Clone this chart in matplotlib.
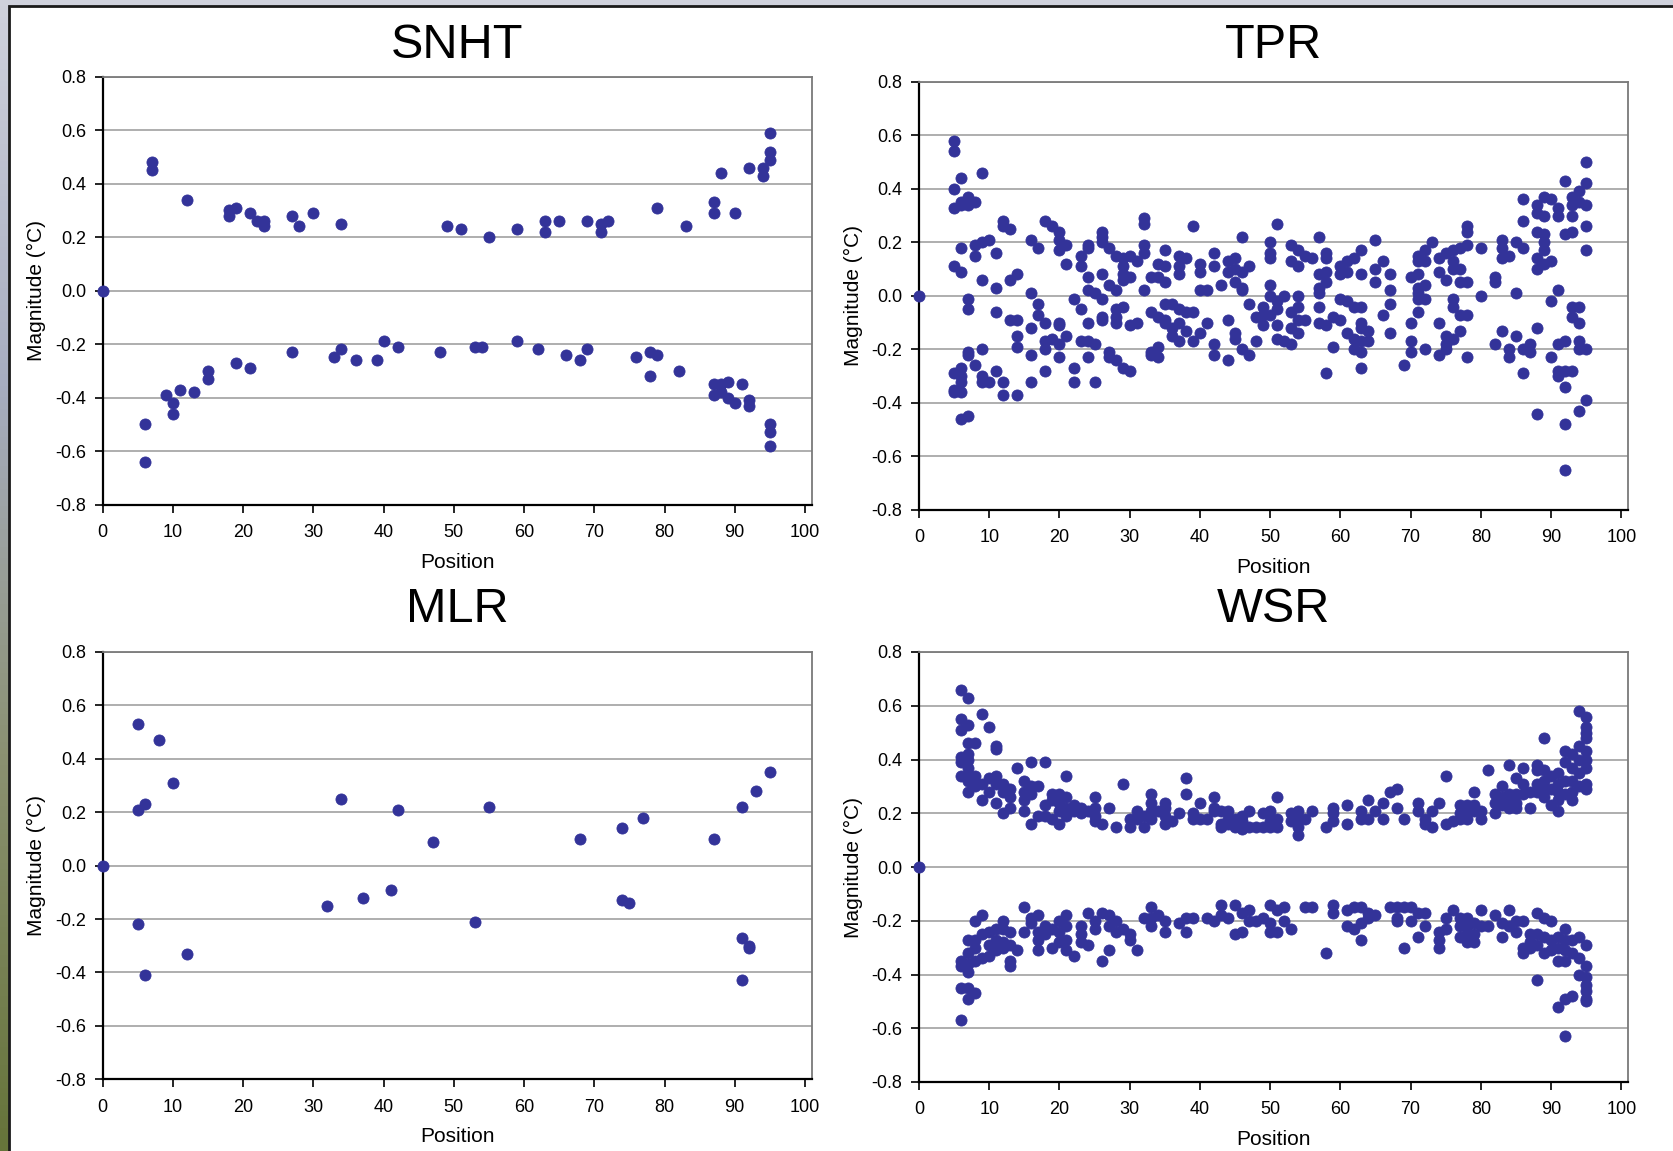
import numpy as np
import matplotlib
matplotlib.use("Agg")
import matplotlib.pyplot as plt
from matplotlib.patches import Rectangle
from matplotlib.ticker import FuncFormatter

plt.rcParams['font.family'] = ['Liberation Sans', 'DejaVu Sans']

# ---- data: position -> list of magnitudes (deg C) ----
snht_pos = [0, 6, 7, 9, 10, 11, 12, 13, 15, 18, 19, 21, 22, 23, 27, 28, 30, 33, 34, 36,
            39, 40, 42, 48, 49, 51, 53, 54, 55, 59, 62, 63, 65, 66, 68, 69, 71, 72, 76, 78,
            79, 82, 83, 87, 88, 89, 90, 91, 92, 94, 95]
snht_vals = [[0.0], [-0.50, -0.64], [0.48, 0.45], [-0.39], [-0.42, -0.46], [-0.37], [0.34],
             [-0.38], [-0.30, -0.33], [0.30, 0.28], [0.31, -0.27], [0.29, -0.29], [0.26],
             [0.26, 0.24], [0.28, -0.23], [0.24], [0.29], [-0.25], [0.25, -0.22], [-0.26],
             [-0.26], [-0.19], [-0.21], [-0.23], [0.24], [0.23], [-0.21], [-0.21], [0.20],
             [0.23, -0.19], [-0.22], [0.26, 0.22], [0.26], [-0.24], [-0.26], [0.26, -0.22],
             [0.25, 0.22], [0.26], [-0.25], [-0.23, -0.32], [0.31, -0.24], [-0.30], [0.24],
             [0.33, 0.29, -0.35, -0.39], [0.44, -0.35, -0.38], [-0.34, -0.40], [0.29, -0.42],
             [-0.35], [0.46, -0.41, -0.43], [0.46, 0.43], [0.59, 0.52, 0.49, -0.50, -0.53, -0.58]]

mlr_pos = [0, 5, 6, 8, 10, 12, 32, 34, 37, 41, 42, 47, 53, 55, 68, 74, 75, 77, 87, 91, 92, 93, 95]
mlr_vals = [[0.0], [0.53, 0.21, -0.22], [0.23, -0.41], [0.47], [0.31], [-0.33], [-0.15], [0.25],
            [-0.12], [-0.09], [0.21], [0.09], [-0.21], [0.22], [0.10], [0.14, -0.13], [-0.14],
            [0.18], [0.10], [0.22, -0.27, -0.43], [-0.30, -0.31], [0.28], [0.35]]

tpr_pos = [0, 5, 6, 7, 8, 9, 10, 11, 12, 13, 14, 16, 17, 18, 19, 20, 21, 22, 23, 24, 25, 26,
           27, 28, 29, 30, 31, 32, 33, 34, 35, 36, 37, 38, 39, 40, 41, 42, 43, 44, 45, 46, 47,
           48, 49, 50, 51, 52, 53, 54, 55, 56, 57, 58, 59, 60, 61, 62, 63, 64, 65, 66, 67, 69,
           70, 71, 72, 73, 74, 75, 76, 77, 78, 80, 82, 83, 84, 85, 86, 87, 88, 89, 90, 91, 92,
           93, 94, 95]
tpr_vals = [[0.0],
            [0.58, 0.54, 0.40, 0.33, 0.11, -0.29, -0.35, -0.36],
            [0.44, 0.35, 0.34, 0.18, 0.09, -0.27, -0.30, -0.32, -0.36, -0.46],
            [0.37, 0.34, -0.01, -0.05, -0.21, -0.22, -0.45],
            [0.35, 0.19, 0.15, -0.26],
            [0.46, 0.20, 0.06, -0.20, -0.30, -0.32],
            [0.21, -0.32],
            [0.16, 0.03, -0.06, -0.28],
            [0.28, 0.26, -0.32, -0.37],
            [0.25, 0.06, -0.09],
            [0.08, -0.09, -0.15, -0.19, -0.37],
            [0.21, 0.01, -0.12, -0.22, -0.32],
            [0.18, -0.03, -0.07],
            [0.28, -0.10, -0.17, -0.20, -0.28],
            [0.26, -0.16],
            [0.24, 0.21, 0.17, -0.10, -0.11, -0.18, -0.23],
            [0.19, 0.12, -0.15],
            [-0.01, -0.27, -0.32],
            [0.15, 0.11, -0.05, -0.17],
            [0.19, 0.18, 0.07, 0.02, -0.10, -0.17, -0.23],
            [0.01, -0.18, -0.32],
            [0.24, 0.22, 0.20, 0.08, -0.01, -0.08, -0.09],
            [0.18, 0.04, -0.21, -0.23],
            [0.15, 0.02, -0.05, -0.08, -0.10, -0.24],
            [0.14, 0.11, 0.08, 0.06, -0.04, -0.27],
            [0.15, 0.07, -0.11, -0.28],
            [0.13, -0.10],
            [0.29, 0.27, 0.19, 0.16, 0.02],
            [0.07, -0.06, -0.21, -0.22],
            [0.12, 0.07, -0.08, -0.19, -0.23],
            [0.17, 0.11, 0.05, -0.03, -0.09, -0.10],
            [-0.03, -0.12, -0.15],
            [0.15, 0.11, 0.08, -0.05, -0.10, -0.17],
            [0.14, -0.06, -0.13],
            [0.26, -0.06, -0.17],
            [0.12, 0.09, 0.02, -0.14],
            [0.02, -0.10],
            [0.16, 0.11, -0.18, -0.22],
            [0.04],
            [0.13, 0.09, -0.09, -0.24],
            [0.14, 0.10, 0.05, -0.14, -0.16],
            [0.22, 0.09, 0.03, 0.02, -0.20],
            [0.11, -0.03, -0.22],
            [-0.08, -0.17],
            [-0.04, -0.07, -0.11],
            [0.20, 0.16, 0.14, 0.04, 0.00, -0.07],
            [0.27, -0.02, -0.05, -0.11, -0.16],
            [0.00, -0.17],
            [0.19, 0.13, -0.06, -0.12, -0.18],
            [0.17, 0.11, 0.00, -0.04, -0.09, -0.14],
            [0.15, -0.09],
            [0.14],
            [0.22, 0.08, 0.03, 0.01, -0.04, -0.10],
            [0.16, 0.14, 0.09, 0.05, -0.11, -0.29],
            [-0.08, -0.19],
            [0.11, 0.08, -0.01, -0.09],
            [0.13, 0.09, -0.02, -0.14],
            [0.14, -0.04, -0.16, -0.20],
            [0.17, 0.08, -0.04, -0.10, -0.12, -0.17, -0.21, -0.27],
            [-0.13, -0.17],
            [0.21, 0.10, 0.05],
            [0.13, -0.07],
            [0.08, 0.02, -0.03, -0.14],
            [-0.26],
            [0.07, -0.10, -0.17, -0.21],
            [0.15, 0.13, 0.08, 0.03, 0.01, -0.01, -0.06],
            [0.17, 0.13, 0.04, -0.01, -0.20],
            [0.20],
            [0.14, 0.09, -0.10, -0.22],
            [0.16, 0.06, -0.15, -0.18, -0.20],
            [0.17, 0.13, 0.10, -0.01, -0.04, -0.16],
            [0.18, 0.10, 0.05, -0.07, -0.13],
            [0.26, 0.24, 0.19, 0.05, -0.07, -0.23],
            [0.18, 0.00],
            [0.07, 0.05, -0.18],
            [0.21, 0.18, 0.14, -0.13],
            [0.15, -0.20, -0.23],
            [0.20, 0.01, -0.15],
            [0.36, 0.28, 0.18, -0.20, -0.29],
            [-0.18, -0.21],
            [0.34, 0.31, 0.24, 0.14, 0.10, -0.12, -0.44],
            [0.37, 0.30, 0.23, 0.20, 0.17, 0.12],
            [0.36, 0.13, -0.02, -0.23],
            [0.33, 0.30, 0.02, -0.18, -0.28, -0.30],
            [0.43, 0.23, -0.17, -0.28, -0.34, -0.48, -0.65],
            [0.37, 0.34, 0.30, 0.24, -0.04, -0.08, -0.28],
            [0.39, 0.35, -0.04, -0.10, -0.17, -0.20, -0.43],
            [0.50, 0.42, 0.34, 0.26, 0.17, -0.20, -0.39]]

wsr_pos = [0, 6, 7, 8, 9, 10, 11, 12, 13, 14, 15, 16, 17, 18, 19, 20, 21, 22, 23, 24, 25, 26,
           27, 28, 29, 30, 31, 32, 33, 34, 35, 36, 37, 38, 39, 40, 41, 42, 43, 44, 45, 46, 47,
           48, 49, 50, 51, 52, 53, 54, 55, 56, 58, 59, 61, 62, 63, 64, 65, 66, 67, 68, 69, 70,
           71, 72, 73, 74, 75, 76, 77, 78, 79, 80, 81, 82, 83, 84, 85, 86, 87, 88, 89, 90, 91,
           92, 93, 94, 95]
wsr_vals = [[0.0],
            [0.66, 0.55, 0.51, 0.41, 0.39, 0.34, -0.35, -0.37, -0.45, -0.57],
            [0.63, 0.53, 0.46, 0.42, 0.40, 0.37, 0.34, 0.32, 0.28, -0.27, -0.32, -0.36, -0.39, -0.45, -0.49],
            [0.46, 0.34, 0.30, -0.20, -0.27, -0.30, -0.35, -0.47],
            [0.57, 0.31, 0.25, -0.18, -0.25, -0.34],
            [0.52, 0.33, 0.28, -0.24, -0.29, -0.33],
            [0.45, 0.44, 0.34, 0.31, 0.24, -0.23, -0.27, -0.31],
            [0.31, 0.28, 0.20, -0.20, -0.23, -0.28, -0.30],
            [0.29, 0.26, 0.22, -0.24, -0.29, -0.35, -0.37],
            [0.37, -0.31],
            [0.32, 0.28, 0.25, 0.21, -0.15, -0.24],
            [0.39, 0.30, 0.27, 0.16, -0.19, -0.21],
            [0.30, 0.19, -0.18, -0.24, -0.27, -0.31],
            [0.39, 0.23, 0.19, -0.22, -0.25],
            [0.27, 0.25, 0.18, -0.23, -0.30],
            [0.27, 0.24, 0.21, 0.16, -0.20, -0.24, -0.28],
            [0.34, 0.26, 0.22, 0.19, -0.18, -0.22, -0.27, -0.31],
            [0.23, 0.21, -0.33],
            [0.22, 0.20, -0.22, -0.25, -0.28],
            [0.21, -0.17, -0.29],
            [0.26, 0.22, 0.19, 0.17, -0.20, -0.23],
            [0.16, -0.17, -0.35],
            [0.22, -0.18, -0.22, -0.31],
            [0.15, -0.20, -0.24],
            [0.31, -0.23],
            [0.18, 0.15, -0.25, -0.27],
            [0.21, 0.18, -0.31],
            [0.19, 0.15, -0.19],
            [0.27, 0.24, 0.21, 0.18, -0.15, -0.19, -0.22],
            [0.21, -0.18],
            [0.24, 0.22, 0.19, 0.16, -0.20, -0.24],
            [0.17],
            [0.20, -0.21],
            [0.33, 0.27, -0.19, -0.24],
            [0.20, 0.18, -0.19],
            [0.24, 0.18],
            [0.18, -0.19],
            [0.26, 0.22, 0.21, -0.20],
            [0.21, 0.16, 0.15, -0.14, -0.18],
            [0.21, 0.18, 0.16, -0.19],
            [0.18, 0.15, -0.14, -0.25],
            [0.19, 0.17, 0.14, -0.17, -0.24],
            [0.21, 0.15, -0.16, -0.20],
            [0.15, -0.20],
            [0.20, 0.15, -0.19],
            [0.21, 0.17, 0.15, -0.14, -0.21, -0.24],
            [0.26, 0.18, 0.15, -0.16, -0.24],
            [-0.15, -0.20],
            [0.20, 0.17, -0.23],
            [0.21, 0.18, 0.15, 0.12],
            [0.18, -0.15],
            [0.21, -0.15],
            [0.15, -0.32],
            [0.22, 0.20, 0.17, -0.14, -0.17],
            [0.23, 0.16, -0.16, -0.22],
            [-0.15, -0.23],
            [0.21, 0.18, -0.15, -0.21, -0.27],
            [0.25, 0.18, -0.17, -0.19],
            [0.21, -0.18],
            [0.24, 0.18],
            [0.28, -0.15],
            [0.29, 0.22, -0.15, -0.19, -0.20],
            [0.18, -0.15, -0.30],
            [-0.15, -0.20],
            [0.24, 0.21, -0.17, -0.26],
            [0.18, 0.16, -0.17, -0.22],
            [0.21, 0.15],
            [0.24, -0.24, -0.27, -0.30],
            [0.34, 0.16, -0.19, -0.23],
            [0.17, -0.16],
            [0.23, 0.20, 0.18, -0.19, -0.22, -0.26],
            [0.23, 0.21, 0.18, -0.19, -0.22, -0.25, -0.28],
            [0.28, 0.23, 0.21, -0.21, -0.25, -0.28],
            [0.21, 0.18, -0.16, -0.22],
            [0.36, -0.22],
            [0.27, 0.24, 0.20, -0.18],
            [0.30, 0.26, 0.23, -0.21, -0.26],
            [0.38, 0.27, 0.24, 0.22, -0.16, -0.22],
            [0.33, 0.27, 0.24, 0.22, -0.20, -0.24],
            [0.37, 0.31, 0.27, -0.20, -0.30, -0.32],
            [0.28, 0.22, -0.25, -0.28, -0.30],
            [0.38, 0.36, 0.31, 0.28, -0.17, -0.25, -0.29, -0.42],
            [0.48, 0.36, 0.32, 0.29, 0.26, -0.19, -0.26, -0.32],
            [0.34, 0.29, 0.23, -0.20, -0.27, -0.31],
            [0.35, 0.31, 0.28, 0.25, 0.21, -0.26, -0.30, -0.35, -0.52],
            [0.43, 0.39, 0.32, 0.27, -0.23, -0.27, -0.31, -0.35, -0.49, -0.63],
            [0.42, 0.37, 0.32, 0.28, 0.25, -0.27, -0.32, -0.48],
            [0.58, 0.45, 0.40, 0.35, 0.30, -0.26, -0.34, -0.40],
            [0.56, 0.52, 0.50, 0.48, 0.43, 0.40, 0.37, 0.31, 0.29, -0.29, -0.37, -0.41, -0.44, -0.46, -0.49, -0.50]]

panel_titles = ['SNHT', 'TPR', 'MLR', 'WSR']
x_ticks = list(range(0, 101, 10))
y_ticks = [-0.8, -0.6, -0.4, -0.2, 0.0, 0.2, 0.4, 0.6, 0.8]

dot_color = '#333399'
W, H = 1673, 1151


def expand(pos, vals):
    xs = np.repeat(pos, [len(v) for v in vals])
    ys = np.concatenate([np.asarray(v, float) for v in vals])
    return xs, ys


def fmt_y(v, _):
    if abs(v) < 1e-9:
        v = 0.0
    return '%.1f' % v


fig = plt.figure(figsize=(W / 100, H / 100), dpi=100)

# slide background (sky on top, grass below) + white panel
bg = fig.add_axes([0, 0, 1, 1], zorder=-10)
grad = np.linspace(0, 1, 200)[:, None]
bg.imshow(grad, aspect='auto', extent=[0, 1, 0, 1], origin='upper',
          cmap=matplotlib.colors.LinearSegmentedColormap.from_list(
              'bgc', ['#cfd1dc', '#a7adc0', '#8a9070', '#66743a']))
bg.set_xlim(0, 1)
bg.set_ylim(0, 1)
bg.axis('off')
fig.patches.append(Rectangle((8.5 / W, -0.01), 1.0, 1.01 - 6 / H, transform=fig.transFigure,
                             facecolor='white', edgecolor='#1a1a1a', linewidth=2, zorder=-5))

# axes boxes in pixels: left, top, right, bottom
boxes = [(102.7, 76.7, 812, 504.5),
         (919, 81.7, 1628.3, 510),
         (102.7, 652, 812, 1079.3),
         (919, 652, 1628.3, 1082)]
data = [expand(snht_pos, snht_vals), expand(tpr_pos, tpr_vals),
        expand(mlr_pos, mlr_vals), expand(wsr_pos, wsr_vals)]
title_y = [45, 45, 610, 610]

for (l, t, r, b), (xs, ys), title, ty in zip(boxes, data, panel_titles, title_y):
    ax = fig.add_axes([l / W, 1 - b / H, (r - l) / W, (b - t) / H])
    ax.set_facecolor('white')
    ax.scatter(xs, ys, s=64, color=dot_color, edgecolors=dot_color, linewidths=0.6,
               zorder=3, clip_on=False)
    ax.set_xlim(0, 101)
    ax.set_ylim(-0.8, 0.8)
    ax.set_xticks(x_ticks)
    ax.set_yticks(y_ticks)
    ax.yaxis.set_major_formatter(FuncFormatter(fmt_y))
    ax.yaxis.grid(True, color='#a8a8a8', linewidth=1.3)
    ax.set_axisbelow(True)
    ax.tick_params(direction='out', length=6, width=1.2, labelsize=13, pad=6, colors='black')
    ax.tick_params(axis='x', pad=8)
    for side in ('left', 'bottom'):
        ax.spines[side].set_color('black')
        ax.spines[side].set_linewidth(1.6)
    for side in ('top', 'right'):
        ax.spines[side].set_color('#7a7a7a')
        ax.spines[side].set_linewidth(1.3)
    ax.text(0.5, -(57.5 / (b - t)), 'Position', transform=ax.transAxes,
            ha='center', va='center', fontsize=15)
    ax.text(-(66 / (r - l)), 0.5, 'Magnitude (°C)', transform=ax.transAxes,
            ha='center', va='center', rotation=90, fontsize=15)
    fig.text((l + r) / 2 / W, 1 - ty / H, title, ha='center', va='center', fontsize=35)

fig.savefig('out.png', dpi=100)
